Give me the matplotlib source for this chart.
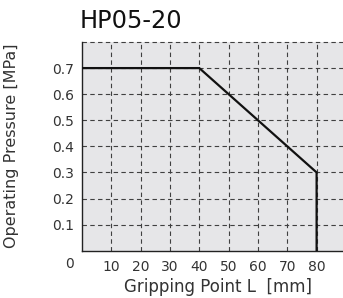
import matplotlib
matplotlib.use("Agg")
import matplotlib.pyplot as plt

title = "HP05-20"
x_label = "Gripping Point L  [mm]"
y_label = "Operating Pressure [MPa]"
grip_point = [0, 40, 80, 80]
pressure = [0.7, 0.7, 0.3, 0.0]
x_ticks = [10, 20, 30, 40, 50, 60, 70, 80]
y_ticks = [0.1, 0.2, 0.3, 0.4, 0.5, 0.6, 0.7]

plt.rcParams['font.family'] = ['DejaVu Sans']

W, H = 343, 298
fig = plt.figure(figsize=(W/100, H/100), dpi=100)
left, right, bottom, top = 82, 343, 250.7, 42
ax = fig.add_axes([left/W, (H-bottom)/H, (right-left)/W, (bottom-top)/H])
ax.set_facecolor('#e6e6e8')
ax.set_xlim(0, 89)
ax.set_ylim(0, 0.8)

grid_kw = dict(color='#404040', lw=0.8, ls=(0, (4, 3)))
for xv in x_ticks:
    ax.axvline(xv, **grid_kw, zorder=1)
for yv in y_ticks + [0.8]:
    ax.axhline(yv, **grid_kw, zorder=1, clip_on=False)

ax.plot(grip_point, pressure, color='#111111', lw=1.6, zorder=3, solid_joinstyle='miter')

for s in ['top', 'right']:
    ax.spines[s].set_visible(False)
for s in ['left', 'bottom']:
    ax.spines[s].set_color('#222222')
    ax.spines[s].set_linewidth(1.0)

tc = '#333333'
ax.set_xticks(x_ticks)
ax.set_xticklabels([str(v) for v in x_ticks])
ax.set_yticks(y_ticks)
ax.set_yticklabels([f"{v:.1f}" for v in y_ticks])
ax.tick_params(length=0, labelsize=10, colors=tc, pad=6)
ax.tick_params(axis='x', pad=7)

fig.text(69/W, 1-264/H, "0", ha='center', va='center', fontsize=10, color=tc)
fig.text(80/W, 1-21/H, title, ha='left', va='center', fontsize=17.3, color='#111111')
fig.text(218/W, 1-287/H, x_label, ha='center', va='center', fontsize=12, color=tc)
fig.text(12/W, 1-146/H, y_label, ha='center', va='center', rotation=90, fontsize=11.5, color=tc)

fig.savefig("out.png", dpi=100)
